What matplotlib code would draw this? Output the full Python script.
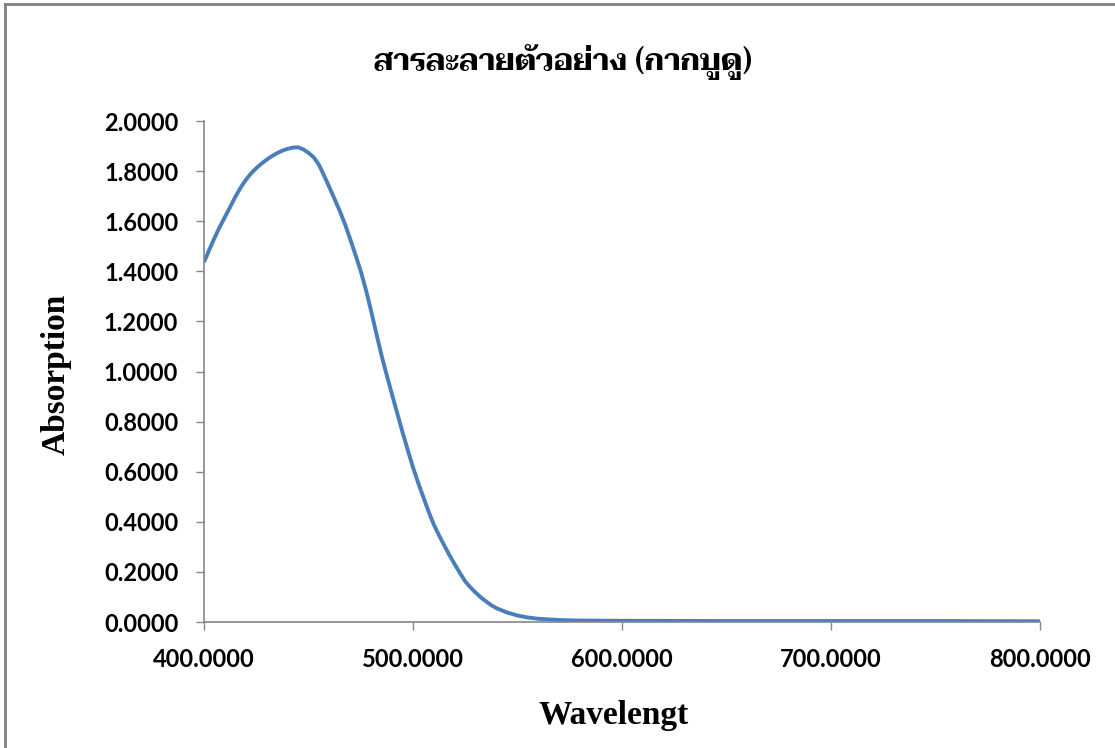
import matplotlib
matplotlib.use("Agg")
import matplotlib.pyplot as plt
from matplotlib.lines import Line2D

# absorption spectrum
wavelength = [400, 402.5, 405, 407.5, 410, 412.5, 415, 417.5, 420, 422.5,
              425, 427.5, 430, 432.5, 435, 437.5, 440, 442.5, 445, 447.5,
              450, 452.5, 455, 457.5, 460, 462.5, 465, 467.5, 470, 472.5,
              475, 477.5, 480, 482.5, 485, 487.5, 490, 492.5, 495, 497.5,
              500, 502.5, 505, 507.5, 510, 512.5, 515, 517.5, 520, 522.5,
              525, 527.5, 530, 532.5, 535, 537.5, 540, 545, 550, 555,
              560, 570, 580, 600, 650, 700, 750, 800]
absorption = [1.437, 1.486, 1.533, 1.577, 1.617, 1.657, 1.698, 1.734, 1.765, 1.791,
              1.812, 1.830, 1.846, 1.860, 1.872, 1.882, 1.889, 1.894, 1.895, 1.887,
              1.873, 1.855, 1.825, 1.781, 1.735, 1.688, 1.640, 1.587, 1.527, 1.465,
              1.400, 1.325, 1.240, 1.150, 1.062, 0.983, 0.907, 0.832, 0.757, 0.686,
              0.617, 0.555, 0.497, 0.440, 0.388, 0.345, 0.305, 0.266, 0.230, 0.195,
              0.162, 0.138, 0.117, 0.098, 0.082, 0.067, 0.055, 0.038, 0.026, 0.018,
              0.013, 0.008, 0.006, 0.005, 0.004, 0.004, 0.004, 0.003]
y_ticks = [0.0, 0.2, 0.4, 0.6, 0.8, 1.0, 1.2, 1.4, 1.6, 1.8, 2.0]
x_ticks = [400, 500, 600, 700, 800]

title = "สารละลายตัวอย่าง (กากบูดู)"

fig = plt.figure(figsize=(11.15, 7.48), dpi=100)
ax = fig.add_axes([0.183, 0.1684, 0.7497, 0.6698])

ax.plot(wavelength, absorption, color="#4A7EBB", lw=2.8, solid_capstyle="butt")

ax.set_xlim(400, 800)
ax.set_ylim(0, 2.0)
ax.set_xticks(x_ticks)
ax.set_yticks(y_ticks)
ax.set_xticklabels(["%.4f" % v for v in x_ticks], fontfamily="Lato", fontweight="bold", fontsize=17)
ax.set_yticklabels(["%.4f" % v for v in y_ticks], fontfamily="Lato", fontweight="bold", fontsize=17)
ax.tick_params(direction="out", length=5.5, width=1, color="#868686", pad=13)

for s in ["top", "right"]:
    ax.spines[s].set_visible(False)
for s in ["left", "bottom"]:
    ax.spines[s].set_color("#868686")
    ax.spines[s].set_linewidth(1.2)

fig.text(0.5045, 0.917, title, ha="center", va="center", fontsize=21.7, fontweight="bold",
         family=["Taviraj", "Liberation Serif", "DejaVu Sans"])
fig.text(0.05, 0.50, "Absorption", rotation=90, ha="center", va="center",
         fontsize=24, fontweight="bold", family="Liberation Serif")
fig.text(0.55, 0.044, "Wavelengt", ha="center", va="center",
         fontsize=24, fontweight="bold", family="Liberation Serif")

# chart area border (top and left edges visible)
fig.add_artist(Line2D([0.0045, 0.0045], [0, 0.9947], transform=fig.transFigure, color="#808080", lw=2))
fig.add_artist(Line2D([0.0045, 1.0], [0.9947, 0.9947], transform=fig.transFigure, color="#808080", lw=2))

fig.savefig("out.png", dpi=100)
